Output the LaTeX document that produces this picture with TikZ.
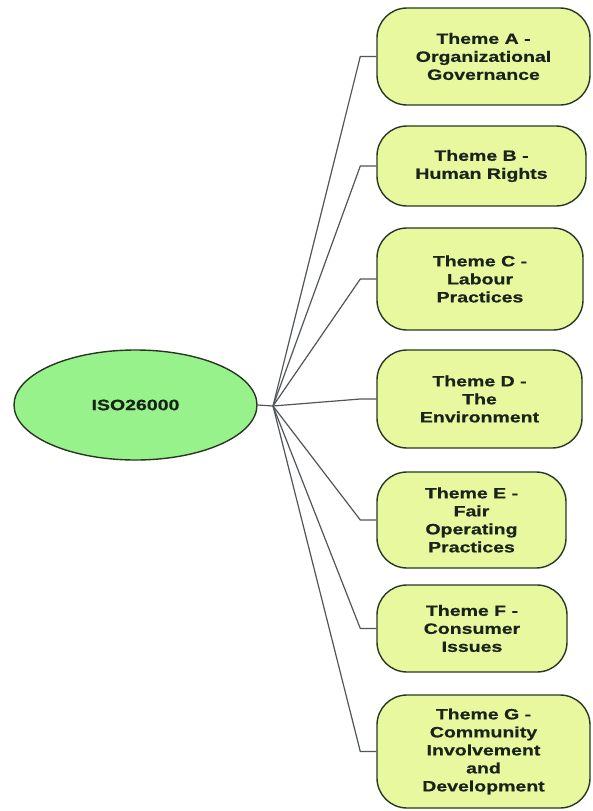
\documentclass[tikz,border=0pt]{standalone}
\usepackage{tikz}
\usepackage{xcolor}
\usepackage{fontspec}
\usetikzlibrary{shapes,positioning,calc}
\newfontfamily\themefont[FakeStretch=1.3,FakeBold=0.6]{Liberation Sans}
\definecolor{rootcolor}{RGB}{152,242,140}
\definecolor{themecolor}{RGB}{231,248,158}
\definecolor{edgecolor}{RGB}{40,55,35}
\definecolor{linkcolor}{RGB}{80,85,88}
\definecolor{textcolor}{RGB}{25,35,25}

\begin{document}
\begin{tikzpicture}[
    x=1pt, y=-1pt,
    root/.style={ellipse, draw=edgecolor, line width=1.4pt, fill=rootcolor, minimum width=243pt, minimum height=110pt, inner sep=0pt, text=textcolor, font=\themefont\bfseries\fontsize{15}{18}\selectfont},
    theme/.style={rectangle, draw=edgecolor, line width=1.4pt, rounded corners=30pt, fill=themecolor, align=center, inner sep=0pt, text=textcolor, font=\themefont\bfseries\fontsize{15}{18}\selectfont},
    link/.style={draw=linkcolor, line width=1.2pt}
]
\useasboundingbox (0,0) rectangle (592,811);

% Root
\node[root] (iso) at (135.5,405) {ISO26000};
\coordinate (hub) at (273,406);

% Themes
\node[theme, minimum width=213pt, minimum height=97pt] (thA) at (483.5,56.5) {Theme A -\\Organizational\\Governance};
\node[theme, minimum width=209pt, minimum height=80pt] (thB) at (481.5,166) {Theme B -\\Human Rights};
\node[theme, minimum width=206pt, minimum height=102pt] (thC) at (480,279) {Theme C -\\Labour\\Practices};
\node[theme, minimum width=205pt, minimum height=98pt] (thD) at (479.5,399) {Theme D -\\The\\Environment};
\node[theme, minimum width=189pt, minimum height=96pt] (thE) at (471.5,520) {Theme E -\\Fair\\Operating\\Practices};
\node[theme, minimum width=190pt, minimum height=87pt] (thF) at (472,628.5) {Theme F -\\Consumer\\Issues};
\node[theme, minimum width=213pt, minimum height=113pt] (thG) at (483.5,751.5) {Theme G -\\Community\\Involvement\\and\\Development};

% Links
\draw[link] (iso.east) -- (hub);
\draw[link] (hub) -- ([xshift=-16pt]thA.west) -- (thA.west);
\draw[link] (hub) -- ([xshift=-16pt]thB.west) -- (thB.west);
\draw[link] (hub) -- ([xshift=-16pt]thC.west) -- (thC.west);
\draw[link] (hub) -- ([xshift=-16pt]thD.west) -- (thD.west);
\draw[link] (hub) -- ([xshift=-16pt]thE.west) -- (thE.west);
\draw[link] (hub) -- ([xshift=-16pt]thF.west) -- (thF.west);
\draw[link] (hub) -- ([xshift=-16pt]thG.west) -- (thG.west);

\end{tikzpicture}
\end{document}
